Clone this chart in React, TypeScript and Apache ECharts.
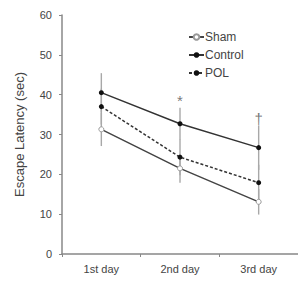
import React, { useEffect, useRef } from "react";
import * as echarts from "echarts";

const categories = ["1st day", "2nd day", "3rd day"];
const shamValues = [31.3, 21.5, 13.1];
const controlValues = [40.5, 32.7, 26.7];
const polValues = [37.0, 24.3, 17.9];
const shamErr = [4.2, 3.6, 3.2];
const controlErr = [4.9, 4.0, 5.6];
const polErr = [4.5, 4.5, 4.5];
const annotations = [
  { cat: "2nd day", y: 38.5, text: "*" },
  { cat: "3rd day", y: 34.0, text: "†" },
];
const yTicks = [0, 10, 20, 30, 40, 50, 60];

function errData(vals: number[], errs: number[]) {
  return vals.map((v, i) => [i, v - errs[i], v + errs[i]]);
}

const errorRender = (params: any, api: any) => {
  const x = api.value(0);
  const lo = api.coord([x, api.value(1)]);
  const hi = api.coord([x, api.value(2)]);
  return {
    type: "line",
    shape: { x1: lo[0], y1: lo[1], x2: hi[0], y2: hi[1] },
    style: { stroke: "#a8a8a8", lineWidth: 1.4 },
  };
};

export default function App() {
  const ref = useRef<HTMLDivElement>(null);
  useEffect(() => {
    document.body.style.margin = "0";
    if (!ref.current) return;
    const chart = echarts.init(ref.current, null, { renderer: "svg" });
    const font = "Liberation Sans, Arial, sans-serif";
    chart.setOption({
      animation: false,
      backgroundColor: "#ffffff",
      textStyle: { fontFamily: font },
      grid: { left: 62, right: -10, top: 15, bottom: 31, containLabel: false },
      legend: {
        orient: "vertical",
        left: 183,
        top: 26,
        itemGap: 6,
        itemWidth: 15,
        itemHeight: 7,
        data: ["Sham", "Control", "POL"],
        textStyle: { fontSize: 12, color: "#444", fontFamily: font, padding: [0, 0, 0, -4] },
      },
      xAxis: {
        type: "category",
        data: categories,
        boundaryGap: true,
        axisLine: { lineStyle: { color: "#888", width: 1.5 } },
        axisTick: { show: true, length: 3, lineStyle: { color: "#888" } },
        axisLabel: { fontSize: 11, color: "#444", margin: 9 },
      },
      yAxis: {
        type: "value",
        min: 0,
        max: 60,
        interval: 10,
        name: "Escape Latency (sec)",
        nameLocation: "middle",
        nameGap: 36,
        nameTextStyle: { fontSize: 13, color: "#444" },
        axisLine: { show: true, lineStyle: { color: "#888", width: 1.5 } },
        axisTick: { show: true, length: 3, lineStyle: { color: "#888" } },
        axisLabel: {
          fontSize: 11,
          color: "#444",
          margin: 10,
          formatter: (v: number) => (yTicks.includes(v) ? String(v) : ""),
        },
        splitLine: { show: false },
      },
      series: [
        { type: "custom", name: "errSham", renderItem: errorRender, data: errData(shamValues, shamErr), z: 1, silent: true },
        { type: "custom", name: "errControl", renderItem: errorRender, data: errData(controlValues, controlErr), z: 1, silent: true },
        { type: "custom", name: "errPOL", renderItem: errorRender, data: errData(polValues, polErr), z: 1, silent: true },
        {
          type: "line",
          name: "Sham",
          data: shamValues,
          symbol: "circle",
          symbolSize: 5,
          lineStyle: { color: "#444", width: 1.5 },
          itemStyle: { color: "#ffffff", borderColor: "#999", borderWidth: 1 },
          z: 3,
        },
        {
          type: "line",
          name: "Control",
          data: controlValues,
          symbol: "circle",
          symbolSize: 5,
          lineStyle: { color: "#333", width: 1.5 },
          itemStyle: { color: "#111", borderColor: "#111", borderWidth: 0 },
          z: 3,
        },
        {
          type: "line",
          name: "POL",
          data: polValues,
          symbol: "circle",
          symbolSize: 5,
          lineStyle: { color: "#333", width: 1.5, type: [3, 2] },
          itemStyle: { color: "#111", borderColor: "#111", borderWidth: 0 },
          z: 3,
        },
        {
          type: "scatter",
          name: "annot",
          symbolSize: 0,
          data: annotations.map((a) => ({ value: [a.cat, a.y], text: a.text })),
          label: {
            show: true,
            position: "inside",
            formatter: (p: any) => p.data.text,
            fontSize: 15,
            color: "#555",
            fontFamily: font,
          },
          z: 4,
        },
      ],
    });
    return () => chart.dispose();
  }, []);
  return <div ref={ref} style={{ width: 298, height: 285 }} />;
}
